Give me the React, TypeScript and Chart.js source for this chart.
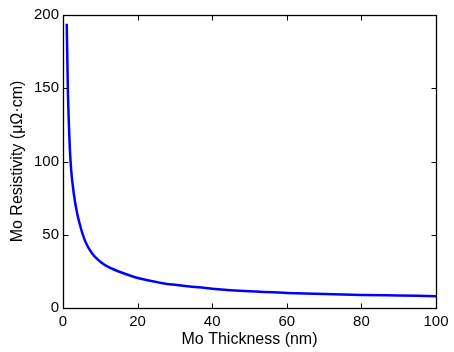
import React, { useEffect, useRef } from "react";
import { Chart, registerables } from "chart.js";

Chart.register(...registerables);

// Values
const thickness = [1, 1.3, 1.6, 1.85, 2.2, 2.9, 3.8, 4.7, 6, 7.8, 10, 12.5, 15.3, 20.6, 26, 30, 40, 50, 60, 70, 80, 90, 100];
const resistivity = [194, 150, 124, 108, 94, 78, 64.5, 55.3, 45.3, 37.2, 31.6, 27.5, 24.6, 20.1, 17.3, 15.8, 13.2, 11.4, 10.3, 9.5, 8.9, 8.5, 8.1];
const xTicks = [0, 20, 40, 60, 80, 100];
const yTicks = [0, 50, 100, 150, 200];
const xTitle = "Mo Thickness (nm)";
const yTitle = "Mo Resistivity (μΩ·cm)";

const FONT = "'Liberation Sans', Arial, Helvetica, sans-serif";

const framePlugin = {
  id: "frame",
  afterDraw(chart: any) {
    const { ctx, chartArea, scales } = chart;
    const { left, right, top, bottom } = chartArea;
    const xs = scales.x;
    const ys = scales.y;
    const L = Math.round(left) + 0.5;
    const R = Math.round(right) + 0.5;
    const T = Math.round(top) + 0.5;
    const B = Math.round(bottom) + 0.5;
    const len = 5;
    ctx.save();
    ctx.strokeStyle = "#000";
    ctx.lineWidth = 1.3;
    ctx.strokeRect(L, T, R - L, B - T);
    ctx.lineWidth = 1;
    ctx.beginPath();
    xTicks.forEach((v) => {
      const px = Math.round(xs.getPixelForValue(v)) + 0.5;
      ctx.moveTo(px, B);
      ctx.lineTo(px, B - len);
      ctx.moveTo(px, T);
      ctx.lineTo(px, T + len);
    });
    yTicks.forEach((v) => {
      const py = Math.round(ys.getPixelForValue(v)) + 0.5;
      ctx.moveTo(L, py);
      ctx.lineTo(L + len, py);
      ctx.moveTo(R, py);
      ctx.lineTo(R - len, py);
    });
    ctx.stroke();
    ctx.restore();
  },
};

export default function App() {
  const ref = useRef<HTMLCanvasElement | null>(null);

  useEffect(() => {
    document.body.style.margin = "0";
    const canvas = ref.current;
    if (!canvas) return;
    const points = thickness.map((t, i) => ({ x: t, y: resistivity[i] }));
    const chart = new Chart(canvas, {
      type: "line",
      data: {
        datasets: [
          {
            data: points,
            borderColor: "#0000ff",
            borderWidth: 2.5,
            pointRadius: 0,
            fill: false,
            cubicInterpolationMode: "monotone",
          },
        ],
      },
      options: {
        responsive: false,
        animation: false,
        devicePixelRatio: 1,
        layout: { padding: { left: 0, top: 15, right: 18, bottom: 0 } },
        plugins: { legend: { display: false }, tooltip: { enabled: false } },
        scales: {
          x: {
            type: "linear",
            min: 0,
            max: 100,
            afterBuildTicks: (s: any) => {
              s.ticks = xTicks.map((v) => ({ value: v }));
            },
            afterFit: (s: any) => {
              s.height = 44;
            },
            grid: { display: false, drawTicks: false },
            border: { display: false },
            ticks: {
              color: "#000",
              padding: 5,
              maxRotation: 0,
              font: { family: FONT, size: 15 },
            },
            title: {
              display: true,
              text: xTitle,
              color: "#000",
              font: { family: FONT, size: 16 },
              padding: { top: 0, bottom: 3 },
            },
          },
          y: {
            type: "linear",
            min: 0,
            max: 200,
            afterBuildTicks: (s: any) => {
              s.ticks = yTicks.map((v) => ({ value: v }));
            },
            afterFit: (s: any) => {
              s.width = 63;
            },
            grid: { display: false, drawTicks: false },
            border: { display: false },
            ticks: {
              color: "#000",
              padding: 4,
              font: { family: FONT, size: 15 },
            },
            title: {
              display: true,
              text: yTitle,
              color: "#000",
              font: { family: FONT, size: 16 },
              padding: { top: 8, bottom: 0 },
            },
          },
        },
      },
      plugins: [framePlugin],
    } as any);
    return () => chart.destroy();
  }, []);

  return (
    <div style={{ width: 454, height: 352, background: "#fff" }}>
      <canvas ref={ref} width={454} height={352} style={{ display: "block" }} />
    </div>
  );
}
